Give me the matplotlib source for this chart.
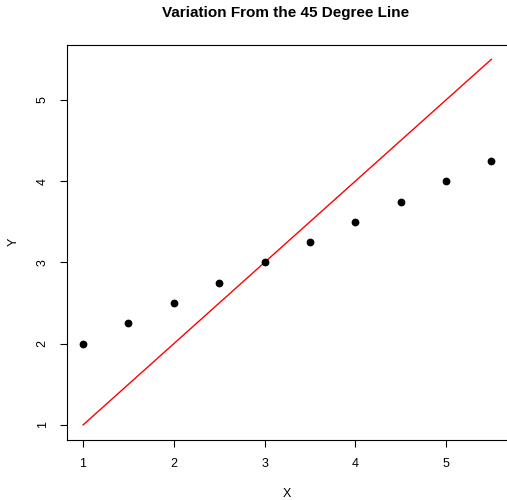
import matplotlib
matplotlib.use("Agg")
import matplotlib.pyplot as plt

x = [1, 1.5, 2, 2.5, 3, 3.5, 4, 4.5, 5, 5.5]
y = [2, 2.25, 2.5, 2.75, 3, 3.25, 3.5, 3.75, 4, 4.25]
line_x = [1, 5.5]
line_y = [1, 5.5]
xticks = [1, 2, 3, 4, 5]
yticks = [1, 2, 3, 4, 5]

plt.rcParams['font.family'] = ['Liberation Sans', 'DejaVu Sans']

fig = plt.figure(figsize=(5.07, 5.0), dpi=100)
ax = fig.add_axes([66.7/507, (500-439.6)/500, 441/507, 394.9/500])
ax.plot(line_x, line_y, color='red', lw=1)
ax.plot(x, y, 'o', color='black', markersize=4.6)
ax.set_xlim(0.82, 5.68)
ax.set_ylim(0.82, 5.68)
ax.set_xticks(xticks)
ax.set_yticks(yticks)
ax.tick_params(direction='out', length=5, width=0.8, labelsize=9, pad=8)
for lab in ax.get_yticklabels():
    lab.set_rotation(90)
    lab.set_va('center')
for s in ax.spines.values():
    s.set_linewidth(0.8)
ax.set_xlabel('X', fontsize=9, labelpad=13)
ax.set_ylabel('Y', fontsize=9, labelpad=12)
fig.text(286/507, 1-13.5/500, 'Variation From the 45 Degree Line', ha='center', va='center',
         fontsize=11, fontweight='bold')
fig.savefig('out.png', dpi=100)
